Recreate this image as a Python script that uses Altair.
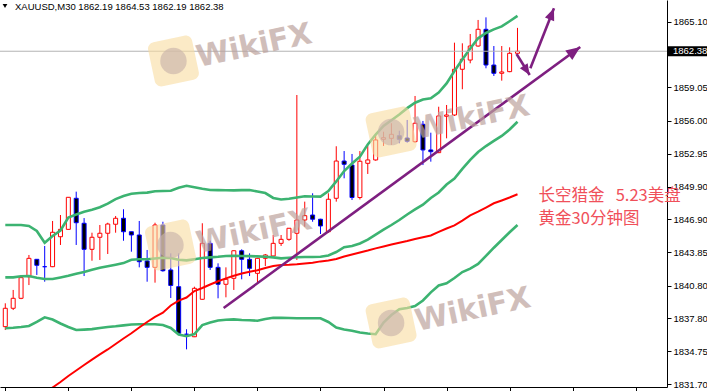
import altair as alt
import pandas as pd

# ---------------- data ----------------
symbol = "XAUUSD,M30"
opens = [1837.02, 1838.71, 1839.63, 1841.62, 1843.22, 1842.54, 1842.54, 1845.30, 1845.98, 1848.84,
         1846.54, 1844.14, 1845.25, 1845.62, 1846.45, 1847.00, 1845.76, 1845.46, 1843.07, 1842.48,
         1846.38, 1842.24, 1840.70, 1836.32, 1836.09, 1839.54, 1844.69, 1842.48, 1840.92, 1841.47,
         1844.01, 1843.22, 1841.93, 1843.31, 1843.53, 1844.69, 1845.06, 1845.62, 1846.84, 1847.30,
         1846.91, 1845.76, 1848.84, 1852.27, 1851.90, 1848.91, 1852.06, 1852.37, 1854.27, 1854.36,
         1854.60, 1854.39, 1854.05, 1855.65, 1853.29, 1853.04, 1856.39, 1856.51, 1860.72, 1861.57,
         1862.86, 1864.40, 1861.11, 1860.35, 1860.50, 1862.19]
highs = [1839.17, 1840.40, 1841.78, 1843.62, 1843.25, 1844.45, 1846.75, 1847.30, 1848.95, 1849.45,
         1847.02, 1845.67, 1846.38, 1846.59, 1847.21, 1847.83, 1845.76, 1846.75, 1844.08, 1846.59,
         1846.68, 1843.77, 1843.77, 1836.78, 1840.70, 1846.54, 1844.93, 1842.85, 1842.48, 1844.05,
         1844.14, 1843.77, 1843.35, 1843.71, 1845.46, 1845.46, 1846.10, 1858.35, 1848.53, 1849.30,
         1846.95, 1849.30, 1853.63, 1853.19, 1852.92, 1853.19, 1853.72, 1854.67, 1854.97, 1855.75,
         1855.06, 1856.05, 1858.26, 1855.96, 1854.88, 1857.27, 1857.43, 1863.17, 1863.11, 1863.97,
         1865.26, 1865.50, 1862.86, 1862.86, 1862.74, 1864.53]
lows = [1836.71, 1838.55, 1839.55, 1840.85, 1841.78, 1841.16, 1842.50, 1844.54, 1845.95, 1844.54,
        1841.68, 1843.09, 1843.16, 1843.71, 1845.67, 1844.93, 1843.92, 1842.48, 1841.16, 1841.07,
        1842.08, 1839.66, 1836.25, 1834.93, 1836.06, 1839.50, 1842.24, 1839.63, 1839.72, 1840.40,
        1841.38, 1841.68, 1841.07, 1842.60, 1843.50, 1844.45, 1844.93, 1843.16, 1846.22, 1846.68,
        1845.55, 1845.67, 1848.53, 1850.68, 1848.68, 1848.73, 1851.08, 1852.30, 1853.66, 1853.75,
        1853.90, 1853.96, 1853.96, 1851.90, 1852.21, 1853.00, 1854.36, 1856.42, 1858.88, 1861.27,
        1862.80, 1860.81, 1860.10, 1859.67, 1860.45, 1862.19]
closes = [1838.71, 1839.63, 1841.53, 1843.31, 1842.67, 1842.54, 1845.71, 1845.98, 1848.93, 1846.59,
          1844.14, 1845.25, 1845.62, 1846.47, 1847.00, 1845.76, 1845.46, 1843.00, 1842.48, 1846.38,
          1842.17, 1840.81, 1836.41, 1836.32, 1840.55, 1844.69, 1842.48, 1840.92, 1841.38, 1844.01,
          1843.22, 1842.39, 1843.31, 1843.62, 1844.69, 1845.06, 1846.08, 1846.84, 1847.24, 1846.91,
          1846.29, 1848.75, 1852.27, 1851.97, 1848.91, 1852.25, 1852.37, 1854.21, 1854.42, 1854.73,
          1854.27, 1854.09, 1855.75, 1853.29, 1853.13, 1856.42, 1856.51, 1860.72, 1861.64, 1862.86,
          1864.40, 1861.11, 1860.35, 1860.47, 1862.19, 1862.38]

bb_upper = [1846.38, 1846.38, 1846.38, 1846.29, 1845.83, 1844.75, 1845.37, 1845.87, 1847.07, 1847.35,
            1847.60, 1847.78, 1848.01, 1848.35, 1848.76, 1849.05, 1849.25, 1849.33, 1849.36, 1849.49,
            1849.51, 1849.53, 1849.81, 1849.99, 1849.86, 1849.72, 1849.60, 1849.59, 1849.58, 1849.57,
            1849.59, 1849.60, 1849.46, 1849.32, 1848.87, 1848.73, 1848.80, 1848.91, 1849.03, 1849.01,
            1848.99, 1849.51, 1850.39, 1851.35, 1852.04, 1852.67, 1853.80, 1854.71, 1855.50, 1856.02,
            1856.56, 1857.14, 1857.64, 1857.94, 1858.04, 1858.58, 1859.42, 1860.56, 1861.62, 1862.64,
            1863.57, 1864.06, 1864.39, 1864.67, 1865.14, 1865.63]
bb_middle = [1841.56, 1841.56, 1841.66, 1841.68, 1841.52, 1841.41, 1841.41, 1841.55, 1841.70, 1841.89,
             1842.05, 1842.25, 1842.45, 1842.58, 1842.72, 1842.87, 1843.18, 1843.22, 1843.22, 1843.30,
             1843.37, 1843.34, 1843.18, 1843.12, 1843.23, 1843.34, 1843.40, 1843.45, 1843.52, 1843.54,
             1843.53, 1843.51, 1843.49, 1843.46, 1843.40, 1843.31, 1843.36, 1843.41, 1843.43, 1843.44,
             1843.46, 1843.58, 1843.89, 1844.33, 1844.45, 1844.68, 1845.04, 1845.49, 1845.95, 1846.38,
             1846.84, 1847.35, 1847.81, 1848.25, 1848.87, 1849.37, 1850.11, 1850.66, 1851.54, 1852.37,
             1853.10, 1853.65, 1854.12, 1854.58, 1855.17, 1855.89]
bb_lower = [1836.87, 1836.92, 1836.99, 1837.08, 1837.45, 1837.88, 1837.68, 1837.31, 1836.99, 1836.71,
            1836.75, 1836.79, 1836.90, 1836.99, 1837.05, 1837.14, 1837.22, 1837.24, 1837.24, 1837.24,
            1837.17, 1836.90, 1836.30, 1836.14, 1836.34, 1837.17, 1837.40, 1837.59, 1837.65, 1837.69,
            1837.63, 1837.61, 1837.57, 1837.72, 1837.84, 1837.83, 1837.82, 1837.79, 1837.79, 1837.79,
            1837.79, 1837.45, 1836.94, 1836.76, 1836.64, 1836.48, 1836.39, 1836.32, 1837.40, 1838.09,
            1838.62, 1838.74, 1838.92, 1839.43, 1840.18, 1840.81, 1841.02, 1841.50, 1842.05, 1842.36,
            1842.79, 1843.53, 1844.29, 1845.00, 1845.71, 1846.38]
ma_first = 5
ma_values = [1830.91, 1831.42, 1831.92, 1832.48, 1832.98, 1833.49, 1833.99, 1834.46, 1834.92, 1835.42,
             1835.93, 1836.41, 1836.94, 1837.45, 1837.91, 1838.30, 1838.97, 1839.41, 1839.70, 1840.30,
             1840.58, 1840.90, 1841.20, 1841.47, 1841.70, 1841.91, 1842.08, 1842.21, 1842.42, 1842.60,
             1842.70, 1842.72, 1842.76, 1842.84, 1842.91, 1843.03, 1843.11, 1843.25, 1843.48, 1843.66,
             1843.85, 1844.03, 1844.23, 1844.40, 1844.58, 1844.75, 1844.91, 1845.09, 1845.25, 1845.41,
             1845.74, 1846.06, 1846.35, 1846.79, 1847.26, 1847.61, 1847.99, 1848.38, 1848.64, 1848.91,
             1849.21]

# drawn objects: (bar index, price) pairs
trend_i = [27.71, 72.96]
trend_p = [1838.74, 1862.77]
down_i = [64.88, 66.55]
down_p = [1862.13, 1860.19]
up_i = [66.63, 69.63]
up_p = [1860.81, 1866.33]

note_lines = ["长空猎金\u00a0\u00a0\u00a05.23美盘", "黄金30分钟图"]
note_i = [67.68, 67.68]
note_p = [1849.05, 1846.93]

wm_icon_i = [21.34, 20.96, 48.96, 48.96]
wm_icon_p = [1861.48, 1844.54, 1854.94, 1837.36]
wm_text_i = [31.59, 31.59, 59.21, 59.34]
wm_text_p = [1862.86, 1845.74, 1856.23, 1838.55]

y_ticks = [1865.10, 1859.05, 1856.00, 1852.95, 1849.90, 1846.90,
           1843.85, 1840.80, 1837.80, 1834.75, 1831.70]
x_ticks = list(range(0, 81, 8))

# ---------------- frames ----------------
n = len(opens)
candles = pd.DataFrame({"i": list(range(n)), "o": opens, "h": highs, "l": lows, "c": closes})
candles["bull"] = candles["c"] > candles["o"]

bands = pd.concat([
    pd.DataFrame({"i": list(range(n)), "v": bb_upper, "s": "upper"}),
    pd.DataFrame({"i": list(range(n)), "v": bb_middle, "s": "middle"}),
    pd.DataFrame({"i": list(range(n)), "v": bb_lower, "s": "lower"}),
])
ma = pd.DataFrame({"i": list(range(ma_first, ma_first + len(ma_values))), "v": ma_values})

objs = pd.concat([
    pd.DataFrame({"i": trend_i, "v": trend_p, "s": "trend", "k": [0, 1]}),
    pd.DataFrame({"i": down_i, "v": down_p, "s": "down", "k": [0, 1]}),
    pd.DataFrame({"i": up_i, "v": up_p, "s": "up", "k": [0, 1]}),
])
notes = pd.DataFrame({"i": note_i, "v": note_p, "t": note_lines})
wm_icons = pd.DataFrame({"i": wm_icon_i, "v": wm_icon_p})
wm_texts = pd.DataFrame({"i": wm_text_i, "v": wm_text_p, "t": "WikiFX"})
last = candles.iloc[[-1]].copy()
header = pd.DataFrame({"t": [symbol + "  " + " ".join(f"{x:.2f}" for x in
                                                      [opens[-1], highs[-1], lows[-1], closes[-1]])]})

# ---------------- scales / axes ----------------
XS = alt.Scale(domain=[-0.0375, 83.3375], nice=False, zero=False)
YS = alt.Scale(domain=[1831.463, 1867.098], nice=False, zero=False)
LABEL_FONT = "Liberation Sans"

xaxis = alt.Axis(orient="bottom", values=x_ticks, labels=False, tickSize=4, grid=False,
                 title=None, domainColor="black", tickColor="black", domainWidth=1)
yaxis = alt.Axis(orient="right", values=y_ticks, format=".2f", tickSize=4, labelPadding=2,
                 grid=False, title=None, domainColor="black", tickColor="black",
                 labelColor="black", labelFont=LABEL_FONT, labelFontSize=9.5,
                 labelOverlap=False, labelFlush=False)


def X(f):
    return alt.X(f, type="quantitative", scale=XS, axis=xaxis)


def Y(f):
    return alt.Y(f, type="quantitative", scale=YS, axis=yaxis)


base = alt.Chart(candles)

wick_bull = base.transform_filter("datum.bull").mark_rule(color="#ff0000", strokeWidth=1).encode(
    x=X("i"), y=Y("l"), y2="h:Q")
wick_bear = base.transform_filter("!datum.bull").mark_rule(color="#0000ff", strokeWidth=1).encode(
    x=X("i"), y=Y("l"), y2="h:Q")
body_bull = base.transform_filter("datum.bull").mark_bar(
    size=4, fill="white", stroke="#ff0000", strokeWidth=1).encode(x=X("i"), y=Y("o"), y2="c:Q")
body_bear = base.transform_filter("!datum.bull").mark_bar(
    size=4, fill="black", stroke="#0000ff", strokeWidth=1).encode(x=X("i"), y=Y("o"), y2="c:Q")

band_lines = alt.Chart(bands).mark_line(color="#3cb371", strokeWidth=2.6, clip=True).encode(
    x=X("i"), y=Y("v"), detail="s:N")
ma_line = alt.Chart(ma).mark_line(color="#ff0000", strokeWidth=2, clip=True).encode(
    x=X("i"), y=Y("v"))

price_line = alt.Chart(last).mark_rule(color="#b4b4b4", strokeWidth=1).encode(y=Y("c"))

obj_lines = alt.Chart(objs).mark_line(color="#7e1f80", strokeWidth=2.6).encode(
    x=X("i"), y=Y("v"), detail="s:N", order="k:Q")
HEAD = "M0,0 L-1,-0.42 L-1,0.42 Z"
heads = []
for name, ang, sz in [("trend", 324, 800), ("down", 57, 480), ("up", 292, 560)]:
    heads.append(alt.Chart(objs).transform_filter(
        f"datum.s == '{name}' && datum.k == 1").mark_point(
        shape=HEAD, filled=True, color="#7e1f80", opacity=1, size=sz, angle=ang).encode(
        x=X("i"), y=Y("v")))

note_text = alt.Chart(notes).mark_text(
    align="left", baseline="middle", font="Noto Sans CJK SC", fontSize=16.5,
    color="#f0505a").encode(x=X("i"), y=Y("v"), text="t:N")

ROUND_SQ = ("M-0.7,-1 L0.7,-1 A0.3,0.3 0 0 1 1,-0.7 L1,0.7 A0.3,0.3 0 0 1 0.7,1 "
            "L-0.7,1 A0.3,0.3 0 0 1 -1,0.7 L-1,-0.7 A0.3,0.3 0 0 1 -0.7,-1 Z")
wm_sq = alt.Chart(wm_icons).mark_point(
    shape=ROUND_SQ, filled=True, color="#f8dca0", opacity=0.6, size=2025, angle=348).encode(
    x=X("i"), y=Y("v"))
wm_circ = alt.Chart(wm_icons).mark_point(
    shape="circle", filled=True, color="#c9b3aa", opacity=0.65, size=700).encode(
    x=X("i"), y=Y("v"))
wm_txt = alt.Chart(wm_texts).mark_text(
    font="DejaVu Sans", fontWeight="bold", fontSize=30, angle=348, color="#bda39e",
    opacity=0.7, align="center", baseline="middle").encode(x=X("i"), y=Y("v"), text="t:N")

hdr_tri = alt.Chart(header).mark_point(shape="triangle-down", filled=True, color="black",
                                       size=22, opacity=1).encode(
    x=alt.value(5), y=alt.value(6))
hdr_txt = alt.Chart(header).mark_text(align="left", baseline="middle", font=LABEL_FONT,
                                      fontSize=9.5, color="black").encode(
    x=alt.value(15), y=alt.value(7), text="t:N")

box = alt.Chart(last).transform_calculate(
    lo="datum.c - 0.46", hi="datum.c + 0.46").mark_rect(color="black").encode(
    x=alt.value(668), x2=alt.value(707), y=Y("lo"), y2="hi:Q")
box_txt = alt.Chart(last).mark_text(align="left", baseline="middle", font=LABEL_FONT,
                                    fontSize=9.5, color="white").encode(
    x=alt.value(673), y=Y("c"), text=alt.Text("c:Q", format=".2f"))

chart = alt.layer(
    wick_bull, wick_bear, body_bull, body_bear,
    band_lines, ma_line, price_line, obj_lines, *heads,
    wm_sq, wm_circ, wm_txt,
    note_text, hdr_tri, hdr_txt, box, box_txt,
).properties(
    width=667, height=387,
    autosize=alt.AutoSizeParams(type="none"),
    padding={"left": 0, "top": 0, "right": 40, "bottom": 4},
    background="white",
).configure_view(stroke=None)

chart.save("out.html", embed_options={"renderer": "svg", "actions": False})
